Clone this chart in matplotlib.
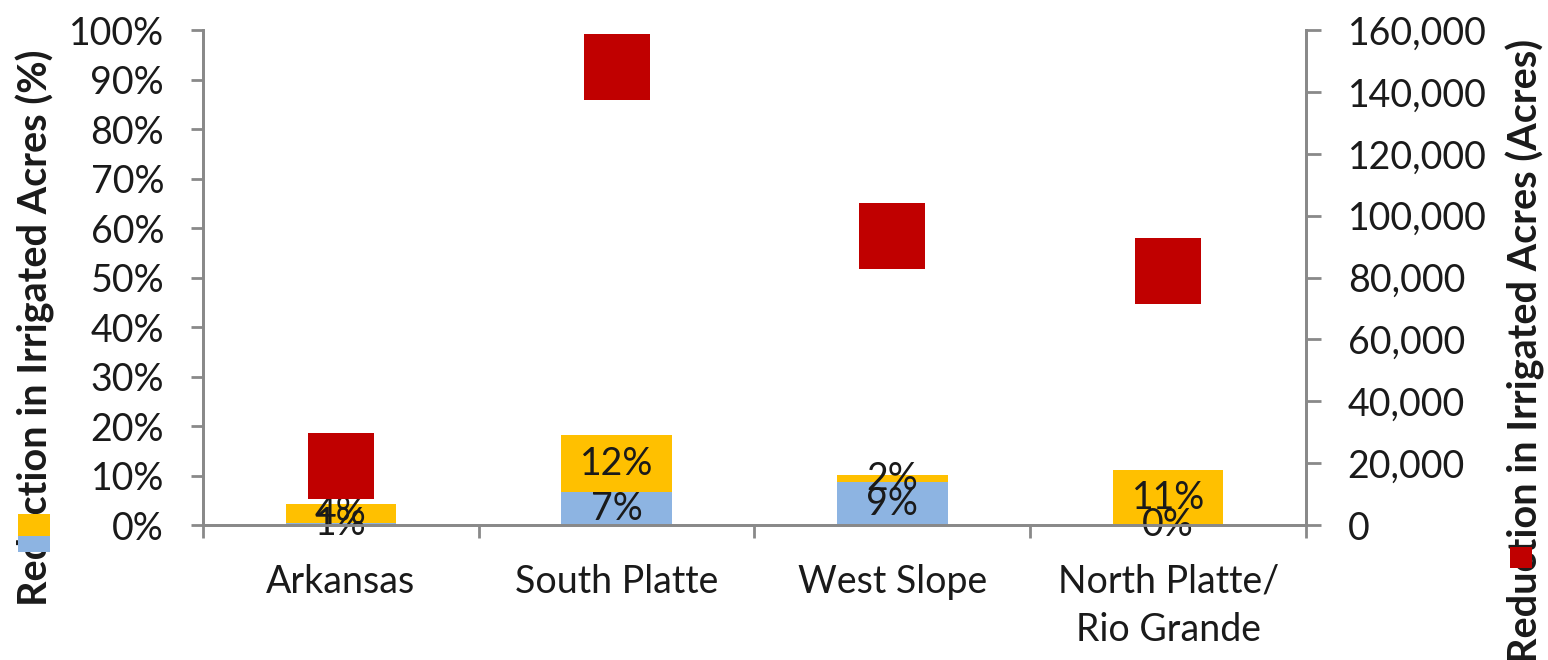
import matplotlib.pyplot as plt
from matplotlib.patches import Rectangle
from matplotlib.ticker import FuncFormatter

plt.rcParams['font.family'] = ['Lato', 'DejaVu Sans']

# data
basins = ['Arkansas', 'South Platte', 'West Slope', 'North Platte/\nRio Grande']
pct_blue = [0.5, 6.6, 8.6, 0.0]      # % reduction, lower segment
pct_gold = [3.8, 11.6, 1.5, 11.1]    # % reduction, upper segment
acres_red = [19000, 148000, 93500, 82000]  # reduction in irrigated acres

BLUE = '#8DB4E2'
GOLD = '#FFC000'
RED = '#C00000'
GREY = '#898989'
TXT = '#1a1a1a'
FS = 27


def pct_label(v):
    return '%d%%' % int(v + 0.5)


fig = plt.figure(figsize=(15.48, 6.6), dpi=100)
ax = fig.add_axes([0.1311, 0.2045, 0.7126, 0.75])

x = list(range(len(basins)))
b1 = ax.bar(x, pct_blue, width=0.4, color=BLUE, zorder=2)
b2 = ax.bar(x, pct_gold, width=0.4, bottom=pct_blue, color=GOLD, zorder=2)
ax.bar_label(b1, labels=[pct_label(v) for v in pct_blue], label_type='center',
             fontsize=FS, color=TXT, zorder=3)
ax.bar_label(b2, labels=[pct_label(v) for v in pct_gold], label_type='center',
             fontsize=FS, color=TXT, zorder=3)

ax.set_xlim(-0.5, len(basins) - 0.5)
ax.set_ylim(0, 100)
ax.set_yticks(range(0, 101, 10))
ax.yaxis.set_major_formatter(FuncFormatter(lambda v, p: '%d%%' % v))

# category boundaries as major ticks, names on minor ticks
ax.set_xticks([i - 0.5 for i in range(len(basins) + 1)])
ax.set_xticklabels([])
ax.set_xticks(x, minor=True)
ax.set_xticklabels(basins, minor=True, fontsize=FS, color=TXT, linespacing=1.4)
ax.tick_params(axis='x', which='major', length=9, width=2, color=GREY)
ax.tick_params(axis='x', which='minor', length=0, pad=28)
ax.tick_params(axis='y', length=9, width=2, color=GREY, pad=19,
               labelsize=FS, labelcolor=TXT)

ax2 = ax.twinx()
ax2.plot(x, acres_red, linestyle='none', marker='s', ms=48, mew=0, color=RED)
ax2.set_ylim(0, 160000)
ax2.set_yticks(range(0, 160001, 20000))
ax2.yaxis.set_major_formatter(FuncFormatter(lambda v, p: '{:,.0f}'.format(v)))
ax2.tick_params(axis='y', length=11, width=2, color=GREY, pad=19,
                labelsize=FS, labelcolor=TXT)

for a in (ax, ax2):
    a.spines['top'].set_visible(False)
    for s in ('left', 'right', 'bottom'):
        a.spines[s].set_color(GREY)
        a.spines[s].set_linewidth(2)

ax.set_ylabel('Reduction in Irrigated Acres (%)', fontsize=28.5, fontweight='bold', color=TXT)
ax.yaxis.label.set_va('center')
ax.yaxis.set_label_coords(-0.152, 0.398)
ax2.set_ylabel('Reduction in Irrigated Acres (Acres)', fontsize=28.5, fontweight='bold', color=TXT)
ax2.yaxis.label.set_va('center')
ax2.yaxis.set_label_coords(1.1985, 0.352)

# legend keys (no text) sitting over the axis titles
fig.add_artist(Rectangle((0.0116, 0.1879), 0.0207, 0.0333, transform=fig.transFigure,
                         color=GOLD, lw=0, zorder=5))
fig.add_artist(Rectangle((0.0116, 0.1636), 0.0207, 0.0243, transform=fig.transFigure,
                         color=BLUE, lw=0, zorder=5))
fig.add_artist(Rectangle((0.9755, 0.1394), 0.0142, 0.0318, transform=fig.transFigure,
                         color=RED, lw=0, zorder=5))

fig.savefig('out.png', dpi=100)
